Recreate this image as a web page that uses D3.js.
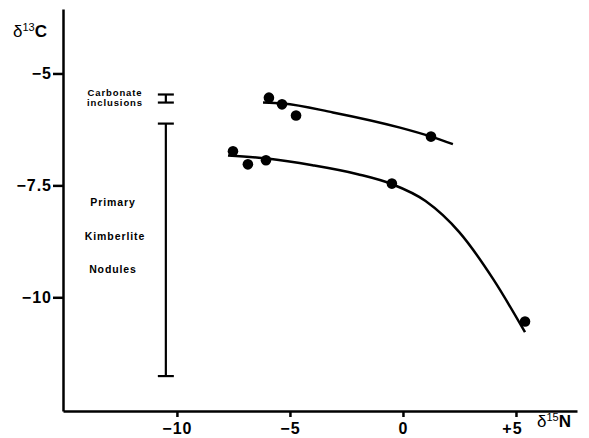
<!DOCTYPE html>
<html>
<head>
<meta charset="utf-8">
<script src="https://cdn.jsdelivr.net/npm/d3@7"></script>
<style>
  body { margin: 0; background: #fff; }
  text { font-family: "Liberation Sans", Arial, sans-serif; fill: #000; }
</style>
</head>
<body>
<div id="chart"></div>
<script>
var width = 589,
    height = 438;

// measured points (d15N, d13C)
var upperPoints = [[-5.93, -5.54], [-5.35, -5.69], [-4.73, -5.94], [1.24, -6.41]];
var lowerPoints = [[-7.52, -6.74], [-6.86, -7.03], [-6.06, -6.94], [-0.49, -7.46], [5.40, -10.54]];

// hand-drawn trend lines
var upperCurve = [[-6.19, -5.65], [-5.31, -5.67], [-3.10, -5.87], [-0.13, -6.21], [1.24, -6.41], [2.21, -6.58]];
var lowerCurve = [[-7.74, -6.83], [-6.0, -6.90], [-4.0, -7.05], [-2.0, -7.25], [-0.5, -7.47],
                  [1.0, -7.85], [2.5, -8.55], [4.0, -9.6], [5.4, -10.78]];

// range bars: [x, top, bottom]
var carbonateRange = [-10.49, -5.47, -5.65];
var kimberliteRange = [-10.49, -6.12, -11.76];

var xTicks = [-10, -5, 0, 5];
var yTicks = [-5, -7.5, -10];

var svg = d3.select('#chart').append('svg')
    .attr('width', width)
    .attr('height', height);

var x = d3.scaleLinear().domain([-15.04, 7.7]).range([63, 577]);
var y = d3.scaleLinear().domain([-3.56, -12.54]).range([9, 411]);

// axes
var xAxis = svg.append('g')
    .attr('transform', 'translate(0,' + y.range()[1] + ')')
    .call(d3.axisBottom(x).tickValues(xTicks).tickSize(6).tickSizeOuter(0).tickPadding(3)
        .tickFormat(function(d) { return d > 0 ? '+' + d : (d < 0 ? '\u2212' + (-d) : '0'); }));

var yAxis = svg.append('g')
    .attr('transform', 'translate(' + x.range()[0] + ',0)')
    .call(d3.axisLeft(y).tickValues(yTicks).tickSize(10).tickSizeOuter(0).tickPadding(1)
        .tickFormat(function(d) { return '\u2212' + (-d); }));

svg.selectAll('.domain').attr('stroke', '#000').attr('stroke-width', 2.5);
svg.selectAll('.tick line').attr('stroke', '#000').attr('stroke-width', 2.5);
svg.selectAll('.tick text')
    .attr('font-size', 16)
    .attr('font-weight', 'bold')
    .attr('letter-spacing', 1)
    .attr('font-family', '"Liberation Sans", Arial, sans-serif')
    .attr('fill', '#000');
xAxis.selectAll('.tick text').attr('dy', '0.85em');
xAxis.selectAll('.tick text').filter(function(d) { return d === 5; }).attr('dx', -4);

// axis titles
var yTitle = svg.append('text').attr('x', 13).attr('y', 37).attr('font-size', 17);
yTitle.append('tspan').text('\u03b4');
yTitle.append('tspan').attr('font-size', 11).attr('dy', -6).text('13');
yTitle.append('tspan').attr('dy', 6).attr('font-weight', 'bold').text('C');

var xTitle = svg.append('text').attr('x', 537).attr('y', 427).attr('font-size', 17);
xTitle.append('tspan').text('\u03b4');
xTitle.append('tspan').attr('font-size', 11).attr('dy', -6).text('15');
xTitle.append('tspan').attr('dy', 6).attr('font-weight', 'bold').text('N');

// range bars
[carbonateRange, kimberliteRange].forEach(function(r) {
    var g = svg.append('g').attr('stroke', '#000').attr('stroke-width', 2.2);
    g.append('line').attr('x1', x(r[0])).attr('x2', x(r[0])).attr('y1', y(r[1])).attr('y2', y(r[2]));
    [r[1], r[2]].forEach(function(v) {
        g.append('line').attr('x1', x(r[0]) - 8).attr('x2', x(r[0]) + 8).attr('y1', y(v)).attr('y2', y(v));
    });
});

// labels
var labels = [
    ['Carbonate', 115, 96, 9.5],
    ['inclusions', 115, 106, 9.5],
    ['Primary', 113, 206, 10.5],
    ['Kimberlite', 115, 240, 10.5],
    ['Nodules', 113, 273, 10.5]
];
svg.selectAll('.lbl')
    .data(labels)
    .enter()
    .append('text')
    .attr('class', 'lbl')
    .attr('x', function(d) { return d[1]; })
    .attr('y', function(d) { return d[2]; })
    .attr('text-anchor', 'middle')
    .attr('font-size', function(d) { return d[3]; })
    .attr('font-weight', 'bold')
    .attr('letter-spacing', 0.9)
    .text(function(d) { return d[0]; });

// trend curves
var line = d3.line()
    .x(function(d) { return x(d[0]); })
    .y(function(d) { return y(d[1]); })
    .curve(d3.curveMonotoneX);

[upperCurve, lowerCurve].forEach(function(c) {
    svg.append('path')
        .attr('d', line(c))
        .attr('fill', 'none')
        .attr('stroke', '#000')
        .attr('stroke-width', 2.5);
});

// points
svg.selectAll('.pt')
    .data(upperPoints.concat(lowerPoints))
    .enter()
    .append('circle')
    .attr('class', 'pt')
    .attr('cx', function(d) { return x(d[0]); })
    .attr('cy', function(d) { return y(d[1]); })
    .attr('r', 5.3)
    .attr('fill', '#000');
</script>
</body>
</html>
